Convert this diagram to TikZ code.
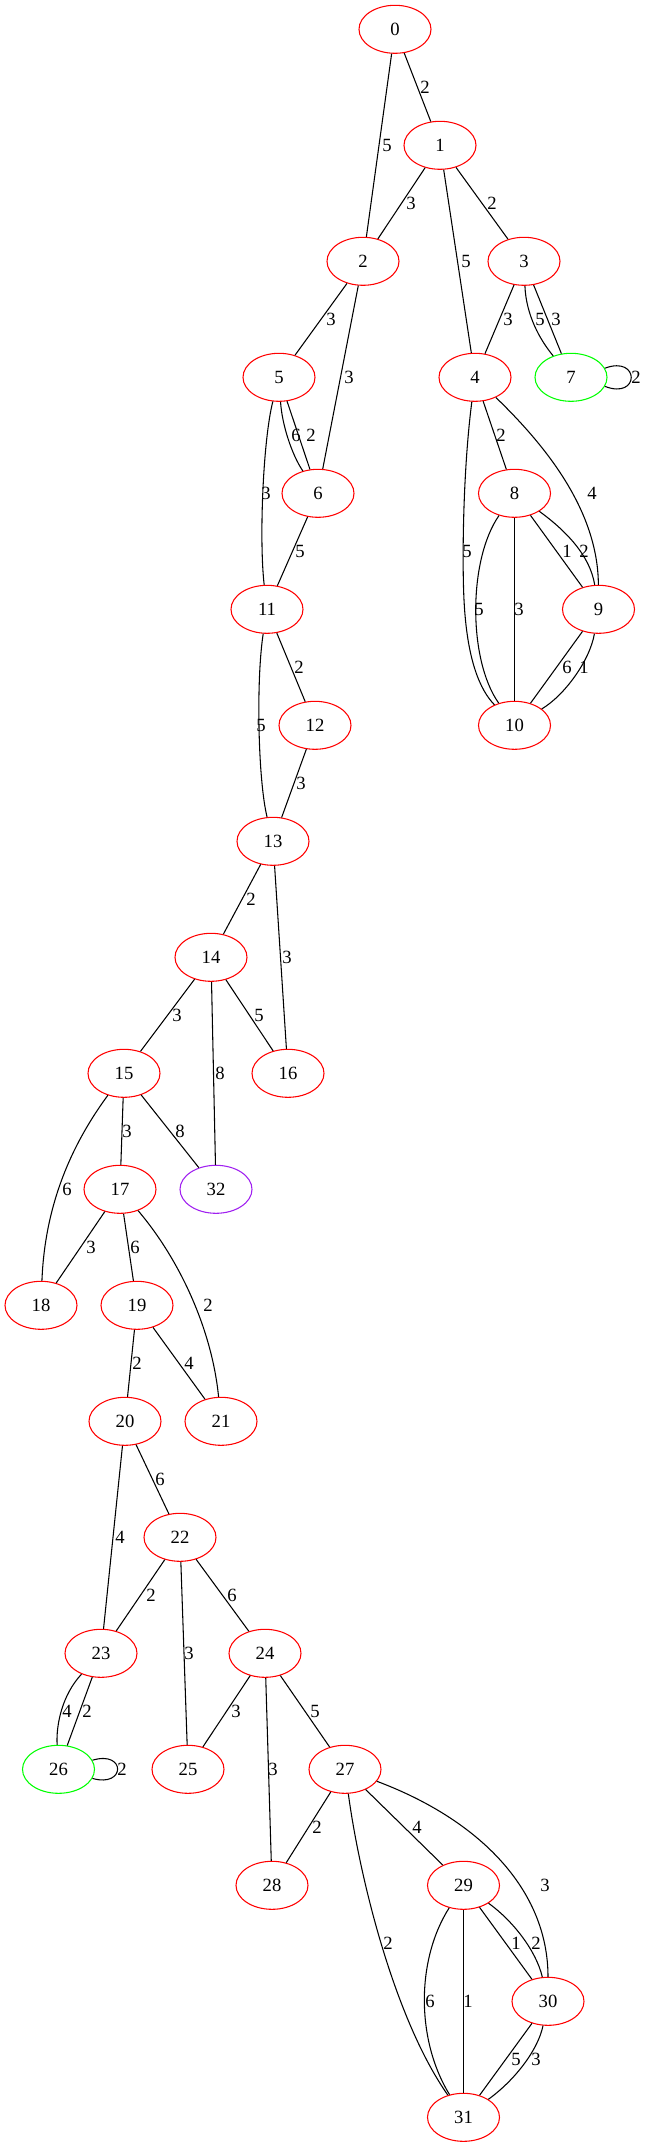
\documentclass[tikz,border=0pt]{standalone}
\usepackage{fontspec}
\setmainfont{Liberation Serif}
\usetikzlibrary{shapes.geometric}
\definecolor{vred}{RGB}{255,0,0}
\definecolor{vgreen}{RGB}{0,255,0}
\definecolor{vpurple}{RGB}{160,32,240}
\begin{document}
\begin{tikzpicture}[x=0.75pt,y=-0.75pt,
  vtx/.style={ellipse, draw=vred, line width=0.8pt, minimum width=54pt, minimum height=36pt, inner sep=0pt, font=\fontsize{14}{16}\selectfont},
  gvtx/.style={vtx, draw=vgreen},
  pvtx/.style={vtx, draw=vpurple},
  lab/.style={inner sep=0pt, font=\fontsize{14}{16}\selectfont},
  edg/.style={line width=0.8pt, black}]
\useasboundingbox (0,0) rectangle (645,2147);
% nodes
\node[vtx] (n0) at (395,29.3) {0};
\node[vtx] (n1) at (440,145.3) {1};
\node[vtx] (n2) at (363,261.3) {2};
\node[vtx] (n3) at (524,261.3) {3};
\node[vtx] (n5) at (279,377.3) {5};
\node[vtx] (n4) at (475,377.3) {4};
\node[gvtx] (n7) at (571,377.3) {7};
\node[vtx] (n6) at (318,493.3) {6};
\node[vtx] (n8) at (514.5,493.3) {8};
\node[vtx] (n11) at (267,609.3) {11};
\node[vtx] (n9) at (598.5,609.3) {9};
\node[vtx] (n12) at (315,725.3) {12};
\node[vtx] (n10) at (514.5,725.3) {10};
\node[vtx] (n13) at (273,841.3) {13};
\node[vtx] (n14) at (211,957.3) {14};
\node[vtx] (n15) at (124,1073.3) {15};
\node[vtx] (n16) at (288,1073.3) {16};
\node[vtx] (n17) at (120,1189.3) {17};
\node[pvtx] (n32) at (216,1189.3) {32};
\node[vtx] (n18) at (41,1305.3) {18};
\node[vtx] (n19) at (137,1305.3) {19};
\node[vtx] (n20) at (125,1421.3) {20};
\node[vtx] (n21) at (221,1421.3) {21};
\node[vtx] (n22) at (180,1537.3) {22};
\node[vtx] (n23) at (101,1653.3) {23};
\node[vtx] (n24) at (265,1653.3) {24};
\node[gvtx] (n26) at (58.5,1769.3) {26};
\node[vtx] (n25) at (188,1769.3) {25};
\node[vtx] (n27) at (345,1769.3) {27};
\node[vtx] (n28) at (272,1885.3) {28};
\node[vtx] (n29) at (463.5,1885.3) {29};
\node[vtx] (n30) at (548,2001.3) {30};
\node[vtx] (n31) at (463.5,2117.3) {31};
% edges
\draw[edg] (n0) -- (n1);
\draw[edg] (n0) -- (n2);
\draw[edg] (n1) -- (n2);
\draw[edg] (n1) -- (n3);
\draw[edg] (n1) -- (n4);
\draw[edg] (n2) -- (n5);
\draw[edg] (n2) -- (n6);
\draw[edg] (n3) -- (n4);
\draw[edg] (n3) .. controls (526,315) and (540,340) .. (n7);
\draw[edg] (n3) -- (n7);
\draw[edg] (n7.15) .. controls (640,355) and (640,400) .. (n7.-15);
\draw[edg] (n5) .. controls (282,425) and (292,455) .. (n6);
\draw[edg] (n5) -- (n6);
\draw[edg] (n5) .. controls (263,440) and (259,540) .. (n11);
\draw[edg] (n6) -- (n11);
\draw[edg] (n4) -- (n8);
\draw[edg] (n4) .. controls (545,445) and (598,510) .. (n9);
\draw[edg] (n4) .. controls (463,470) and (462,560) .. (464,600) .. controls (467,660) and (480,690) .. (n10);
\draw[edg] (n8) .. controls (468,560) and (468,660) .. (n10);
\draw[edg] (n8) -- (n10);
\draw[edg] (n8) -- (n9);
\draw[edg] (n8) .. controls (565,530) and (590,555) .. (n9);
\draw[edg] (n9) -- (n10);
\draw[edg] (n9) .. controls (590,660) and (565,695) .. (n10);
\draw[edg] (n11) -- (n12);
\draw[edg] (n11) .. controls (256,680) and (258,780) .. (n13);
\draw[edg] (n12) -- (n13);
\draw[edg] (n13) -- (n14);
\draw[edg] (n13) -- (n16);
\draw[edg] (n14) -- (n15);
\draw[edg] (n14) -- (n16);
\draw[edg] (n14) -- (n32);
\draw[edg] (n15) -- (n17);
\draw[edg] (n15) -- (n32);
\draw[edg] (n15) .. controls (75,1140) and (45,1200) .. (n18);
\draw[edg] (n17) -- (n18);
\draw[edg] (n17) -- (n19);
\draw[edg] (n17) .. controls (180,1260) and (212,1330) .. (n21);
\draw[edg] (n19) -- (n20);
\draw[edg] (n19) -- (n21);
\draw[edg] (n20) -- (n22);
\draw[edg] (n20) -- (n23);
\draw[edg] (n22) -- (n23);
\draw[edg] (n22) -- (n25);
\draw[edg] (n22) -- (n24);
\draw[edg] (n23) .. controls (62,1695) and (56,1725) .. (n26);
\draw[edg] (n23) -- (n26);
\draw[edg] (n26.15) .. controls (126,1750) and (126,1788) .. (n26.-15);
\draw[edg] (n24) -- (n25);
\draw[edg] (n24) -- (n28);
\draw[edg] (n24) -- (n27);
\draw[edg] (n27) -- (n28);
\draw[edg] (n27) -- (n29);
\draw[edg] (n27) .. controls (480,1820) and (548,1890) .. (n30);
\draw[edg] (n27) .. controls (360,1880) and (395,2020) .. (n31);
\draw[edg] (n29) .. controls (416,1960) and (416,2040) .. (n31);
\draw[edg] (n29) -- (n31);
\draw[edg] (n29) -- (n30);
\draw[edg] (n29) .. controls (512,1920) and (536,1950) .. (n30);
\draw[edg] (n30) -- (n31);
\draw[edg] (n30) .. controls (538,2050) and (515,2080) .. (n31);
% labels
\node[lab] (l0-1) at (425,87.3) {2};
\node[lab] (l0-2) at (387,145.3) {5};
\node[lab] (l1-2) at (411,203.3) {3};
\node[lab] (l1-3) at (492,203.3) {2};
\node[lab] (l1-4) at (466,261.3) {5};
\node[lab] (l2-5) at (331,319.3) {3};
\node[lab] (l2-6) at (349,377.3) {3};
\node[lab] (l3-4) at (508,319.3) {3};
\node[lab] (l3-7a) at (540,319.3) {5};
\node[lab] (l3-7b) at (556,319.3) {3};
\node[lab] (l7-7) at (636,377.3) {2};
\node[lab] (l5-6a) at (296,435.3) {6};
\node[lab] (l5-6b) at (311,435.3) {2};
\node[lab] (l5-11) at (266,493.3) {3};
\node[lab] (l4-8) at (501,435.3) {2};
\node[lab] (l4-9) at (592,493.3) {4};
\node[lab] (l6-11) at (300,551.3) {5};
\node[lab] (l4-10) at (467,551.3) {5};
\node[lab] (l8-9a) at (567,551.3) {1};
\node[lab] (l8-9b) at (584,551.3) {2};
\node[lab] (l8-10a) at (479,609.3) {5};
\node[lab] (l8-10b) at (519,609.3) {3};
\node[lab] (l11-12) at (299,667.3) {2};
\node[lab] (l9-10a) at (567,667.3) {6};
\node[lab] (l9-10b) at (584,667.3) {1};
\node[lab] (l11-13) at (261,725.3) {5};
\node[lab] (l12-13) at (301,783.3) {3};
\node[lab] (l13-14) at (251,899.3) {2};
\node[lab] (l13-16) at (287,957.3) {3};
\node[lab] (l14-15) at (177,1015.3) {3};
\node[lab] (l14-16) at (259,1015.3) {5};
\node[lab] (l14-32) at (220,1073.3) {8};
\node[lab] (l15-17) at (127,1131.3) {3};
\node[lab] (l15-32) at (180,1131.3) {8};
\node[lab] (l15-18) at (67,1189.3) {6};
\node[lab] (l17-18) at (91,1247.3) {3};
\node[lab] (l17-19) at (135,1247.3) {6};
\node[lab] (l17-21) at (208,1305.3) {2};
\node[lab] (l19-20) at (137,1363.3) {2};
\node[lab] (l19-21) at (189,1363.3) {4};
\node[lab] (l20-22) at (160,1479.3) {6};
\node[lab] (l20-23) at (120,1537.3) {4};
\node[lab] (l22-23) at (151,1595.3) {2};
\node[lab] (l22-24) at (232,1595.3) {6};
\node[lab] (l22-25) at (189,1653.3) {3};
\node[lab] (l23-26a) at (67,1711.3) {4};
\node[lab] (l23-26b) at (87,1711.3) {2};
\node[lab] (l24-25) at (236,1711.3) {3};
\node[lab] (l24-27) at (315,1711.3) {5};
\node[lab] (l26-26) at (122,1769.3) {2};
\node[lab] (l24-28) at (273,1769.3) {3};
\node[lab] (l27-28) at (317,1827.3) {2};
\node[lab] (l27-29) at (417,1827.3) {4};
\node[lab] (l27-30) at (545,1885.3) {3};
\node[lab] (l27-31) at (388,1943.3) {2};
\node[lab] (l29-30a) at (516,1943.3) {1};
\node[lab] (l29-30b) at (536,1943.3) {2};
\node[lab] (l29-31a) at (430,2001.3) {6};
\node[lab] (l29-31b) at (468,2001.3) {1};
\node[lab] (l30-31a) at (516,2059.3) {5};
\node[lab] (l30-31b) at (536,2059.3) {3};
\end{tikzpicture}
\end{document}
